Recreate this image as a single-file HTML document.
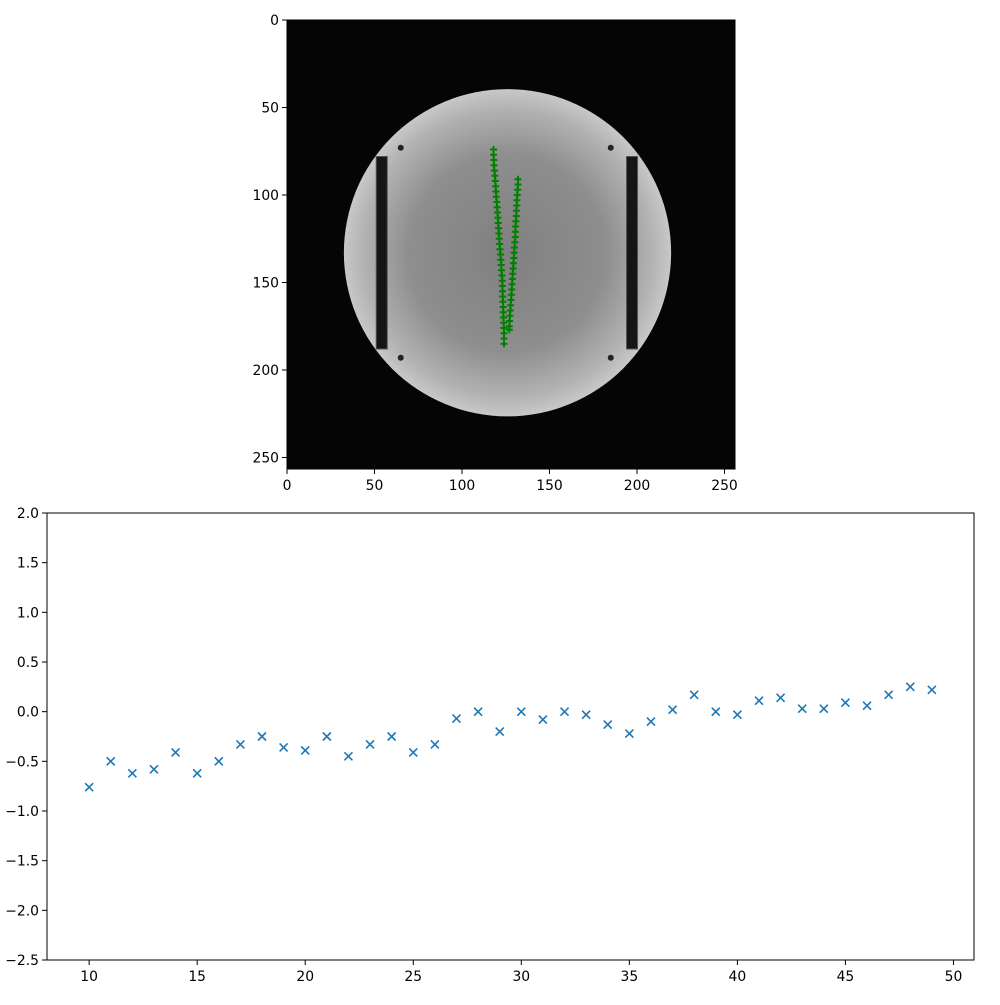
<!DOCTYPE html>
<html><head><meta charset="utf-8"><style>
body{margin:0;background:#fff;font-family:"Liberation Sans","DejaVu Sans",sans-serif;}
svg text{font-family:"DejaVu Sans","Liberation Sans",sans-serif;font-size:13.9px;fill:#000;}
</style></head><body>
<svg id="s" width="1000" height="1000" xmlns="http://www.w3.org/2000/svg">
<defs>
<radialGradient id="g" cx="0.5" cy="0.5" r="0.5">
<stop offset="0" stop-color="#808080"/><stop offset="0.6" stop-color="#8e8e8e"/><stop offset="0.88" stop-color="#b2b2b2"/><stop offset="1" stop-color="#c8c8c8"/>
</radialGradient>
</defs>
<g id="topPanel"></g>
<g id="botPanel"></g>
</svg>
<script>
const NS="http://www.w3.org/2000/svg";
const imgTicks=[0,50,100,150,200,250];
const leftY=[74,77,80,83,86,89,92,95,98,101,104,107,110,113,116,119,122,125,128,131,134,137,140,143,146,149,152,155,158,161,164,167,170,173,176,179,182,185];
const leftX=[118,118,118.2,118.3,118.5,118.8,119,119.2,119.4,119.6,119.9,120.1,120.3,120.5,120.7,120.9,121.1,121.3,121.5,121.7,122,122.2,122.4,122.6,122.8,123,123.1,123.2,123.3,123.4,123.5,123.6,123.7,123.8,123.9,124,124,124];
const rightY=[91,94,97,100,103,106,109,112,115,118,121,124,127,130,133,136,139,142,145,148,151,154,157,160,163,166,169,172,175,177];
const rightX=[132,132,131.8,131.6,131.4,131.3,131.1,131,130.8,130.6,130.5,130.4,130.2,130,129.8,129.6,129.4,129.2,129,128.8,128.6,128.4,128.2,128,127.8,127.6,127.4,127.2,127,127];
const xs=[10,11,12,13,14,15,16,17,18,19,20,21,22,23,24,25,26,27,28,29,30,31,32,33,34,35,36,37,38,39,40,41,42,43,44,45,46,47,48,49];
const ys=[-0.76,-0.5,-0.62,-0.58,-0.41,-0.62,-0.5,-0.33,-0.25,-0.36,-0.39,-0.25,-0.45,-0.33,-0.25,-0.41,-0.33,-0.07,0.0,-0.2,0.0,-0.08,0.0,-0.03,-0.13,-0.22,-0.1,0.02,0.17,0.0,-0.03,0.11,0.14,0.03,0.03,0.09,0.06,0.17,0.25,0.22];
const xTicks=[10,15,20,25,30,35,40,45,50];
const yTicks=[-2.5,-2.0,-1.5,-1.0,-0.5,0.0,0.5,1.0,1.5,2.0];

function mk(p,t,a){const e=document.createElementNS(NS,t);for(const k in a)e.setAttribute(k,a[k]);p.appendChild(e);return e;}
const topG=document.getElementById('topPanel'),botG=document.getElementById('botPanel');
const iL=287,iT=20,iS=448/256;
const ix=v=>iL+v*iS, iy=v=>iT+v*iS;
let e=mk(topG,'rect',{x:iL,y:iT,width:448,height:449,fill:'#050505'});


e=mk(topG,'ellipse',{cx:ix(126),cy:iy(133),rx:93.5*iS,ry:93.5*iS,fill:'url(#g)'});


[[51,78],[194,78]].forEach(r=>{e=mk(topG,'rect',{x:ix(r[0]),y:iy(r[1]),width:6.3*iS,height:110*iS,fill:'#151515',stroke:'#555','stroke-width':1});

});
[[65,73],[185,73],[65,193],[185,193]].forEach(d=>{e=mk(topG,'circle',{cx:ix(d[0]),cy:iy(d[1]),r:3,fill:'#222'});

});
function plus(xv,yv){const g=mk(topG,'path',{d:`M${ix(xv)-3.5},${iy(yv)}h7M${ix(xv)},${iy(yv)-3.5}v7`,stroke:'#008000','stroke-width':2,fill:'none'});

}
leftX.forEach((v,i)=>plus(v,leftY[i]));
rightX.forEach((v,i)=>plus(v,rightY[i]));
e=mk(topG,'rect',{x:iL,y:iT,width:448,height:449,fill:'none',stroke:'#000','stroke-width':1});


imgTicks.forEach(t=>{
 mk(topG,'line',{x1:ix(t),x2:ix(t),y1:469,y2:474,stroke:'#000'});
 e=mk(topG,'text',{x:ix(t),y:490,'text-anchor':'middle'});e.textContent=t;
 
 
 mk(topG,'line',{x1:iL-5,x2:iL,y1:iy(t),y2:iy(t),stroke:'#000'});
 e=mk(topG,'text',{x:iL-8,y:iy(t)+5,'text-anchor':'end'});e.textContent=t;
 
 
});
const L=47,R=974,T=513,B=960,x0=8.05,x1=50.95,y0=-2.5,y1=2.0;
const sx=v=>L+(v-x0)/(x1-x0)*(R-L), sy=v=>B-(v-y0)/(y1-y0)*(B-T);
e=mk(botG,'rect',{x:L,y:T,width:R-L,height:B-T,fill:'none',stroke:'#000'});


xTicks.forEach(t=>{mk(botG,'line',{x1:sx(t),x2:sx(t),y1:B,y2:B+5,stroke:'#000'});
 e=mk(botG,'text',{x:sx(t),y:B+21,'text-anchor':'middle'});e.textContent=t;
 
 });
yTicks.forEach(t=>{mk(botG,'line',{x1:L-5,x2:L,y1:sy(t),y2:sy(t),stroke:'#000'});
 e=mk(botG,'text',{x:L-8,y:sy(t)+5,'text-anchor':'end'});e.textContent=t.toFixed(1).replace('-','\u2212');
 
 });
xs.forEach((v,i)=>{const cx=sx(v),cy=sy(ys[i]);
 e=mk(botG,'path',{d:`M${cx-4},${cy-4}L${cx+4},${cy+4}M${cx-4},${cy+4}L${cx+4},${cy-4}`,stroke:'#1f77b4','stroke-width':1.6,fill:'none'});
 
 });
</script>
</body></html>
